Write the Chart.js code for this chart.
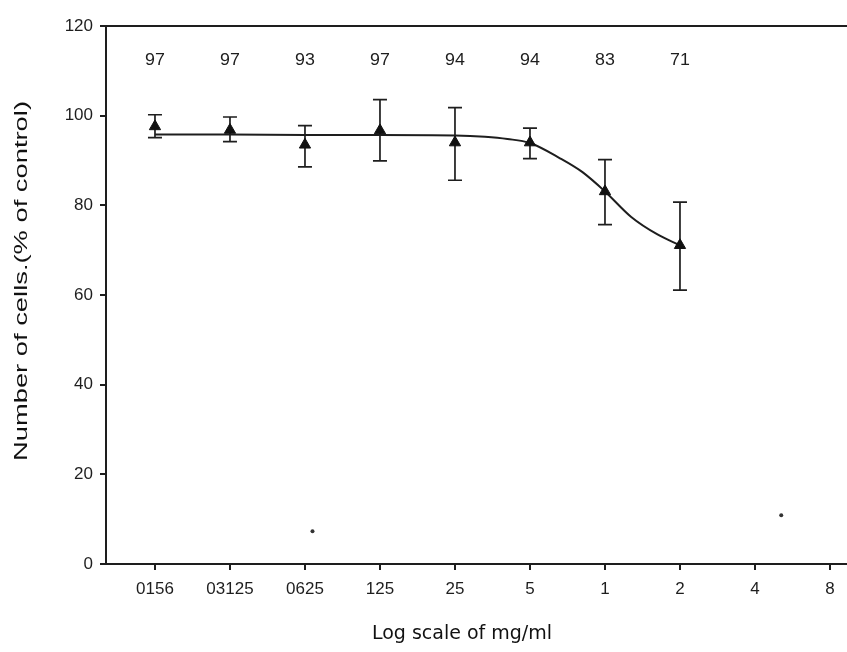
<!DOCTYPE html>
<html><head><meta charset="utf-8">
<script src="https://cdn.jsdelivr.net/npm/chart.js@4.4.0/dist/chart.umd.min.js"></script>
<style>html,body{margin:0;padding:0;background:#fff;}#wrap{width:847px;height:652px;}</style>
</head><body><div id="wrap"><canvas id="c" width="847" height="652"></canvas></div>
<script>
const categories = ['0156','03125','0625','125','25','5','1','2','4','8'];
const meanValues = [97.6, 96.8, 93.5, 96.7, 94.0, 94.0, 83.1, 71.1];
const errorHigh = [100.2, 99.7, 97.8, 103.6, 101.8, 97.2, 90.2, 80.7];
const errorLow = [95.1, 94.2, 88.6, 89.9, 85.6, 90.4, 75.7, 61.1];
const topLabels = ['97','97','93','97','94','94','83','71'];
const curveX = [0, 1, 2, 3, 4, 4.4, 4.7, 5, 5.4, 5.7, 6, 6.35, 6.7, 7];
const curveY = [95.8, 95.8, 95.7, 95.7, 95.6, 95.3, 94.8, 93.9, 90.5, 87.4, 83.1, 77.4, 73.5, 71.1];
const speckX = [2.1, 8.35];
const speckY = [7.3, 10.9];
const yTicks = [0, 20, 40, 60, 80, 100, 120];
const xTitle = 'Log scale of mg/ml';
const yTitle = 'Number of cells.(% of control)';

const INK = '#1e1e1e';
const tickFont = {family: '"Liberation Sans", Arial, sans-serif', size: 17};

const extras = {
  id: 'extras',
  beforeDatasetsDraw(chart) {
    const {ctx, scales: {x, y}} = chart;
    ctx.save();
    ctx.strokeStyle = INK;
    ctx.lineWidth = 1.7;
    meanValues.forEach((v, i) => {
      const px = x.getPixelForValue(i);
      const t = y.getPixelForValue(errorHigh[i]);
      const b = y.getPixelForValue(errorLow[i]);
      ctx.beginPath();
      ctx.moveTo(px, t); ctx.lineTo(px, b);
      ctx.moveTo(px - 7, t); ctx.lineTo(px + 7, t);
      ctx.moveTo(px - 7, b); ctx.lineTo(px + 7, b);
      ctx.stroke();
    });
    ctx.restore();
  },
  afterDraw(chart) {
    const {ctx, chartArea, scales: {x, y}} = chart;
    ctx.save();
    ctx.strokeStyle = INK;
    ctx.lineWidth = 2;
    ctx.beginPath();
    const ty = y.getPixelForValue(120);
    ctx.moveTo(chartArea.left - 6, ty); ctx.lineTo(chartArea.right, ty);
    ctx.stroke();
    ctx.fillStyle = INK;
    ctx.textAlign = 'center';
    ctx.textBaseline = 'middle';
    ctx.font = '17px "Liberation Sans", Arial, sans-serif';
    topLabels.forEach((t, i) => {
      ctx.save();
      ctx.translate(x.getPixelForValue(i), y.getPixelForValue(112.3));
      ctx.scale(1.05, 1);
      ctx.fillText(t, 0, 0);
      ctx.restore();
    });
    // axis titles
    ctx.fillStyle = '#111';
    ctx.font = '19px "DejaVu Sans", Verdana, sans-serif';
    let w = ctx.measureText(xTitle).width;
    ctx.save();
    ctx.translate(462, 634);
    ctx.scale(180 / w, 1);
    ctx.fillText(xTitle, 0, 0);
    ctx.restore();
    ctx.font = '19px "Liberation Sans", Arial, sans-serif';
    w = ctx.measureText(yTitle).width;
    ctx.save();
    ctx.translate(22, 281);
    ctx.rotate(-Math.PI / 2);
    ctx.scale(360 / w, 1);
    ctx.fillText(yTitle, 0, 0);
    ctx.restore();
    ctx.restore();
  }
};

new Chart(document.getElementById('c'), {
  type: 'scatter',
  data: {
    datasets: [
      {
        type: 'line',
        data: curveX.map((v, i) => ({x: v, y: curveY[i]})),
        borderColor: INK, borderWidth: 2, pointRadius: 0,
        cubicInterpolationMode: 'monotone', fill: false, order: 2
      },
      {
        data: meanValues.map((v, i) => ({x: i, y: v})),
        pointStyle: 'triangle', pointRadius: 6.5,
        backgroundColor: '#111', borderColor: '#111', borderWidth: 1, order: 1
      },
      {
        data: speckX.map((v, i) => ({x: v, y: speckY[i]})),
        pointRadius: 2, backgroundColor: '#333', borderWidth: 0, order: 3
      }
    ]
  },
  options: {
    responsive: false,
    animation: false,
    devicePixelRatio: 1,
    layout: {autoPadding: false, padding: {top: 26, right: 0, left: 0, bottom: 0}},
    plugins: {legend: {display: false}, tooltip: {enabled: false}},
    scales: {
      x: {
        type: 'linear', min: -0.653, max: 9.227,
        afterBuildTicks: s => { s.ticks = categories.map((c, i) => ({value: i})); },
        afterFit: s => { s.height = 88; s.paddingLeft = 0; s.paddingRight = 0; },
        ticks: {
          callback: v => categories[v] ?? '', autoSkip: false, maxRotation: 0,
          color: INK, font: tickFont, padding: 9
        },
        grid: {display: true, drawOnChartArea: false, drawTicks: true, tickLength: 6, color: INK, lineWidth: 2},
        border: {display: true, color: INK, width: 2}
      },
      y: {
        min: 0, max: 120,
        afterBuildTicks: s => { s.ticks = yTicks.map(v => ({value: v})); },
        afterFit: s => { s.width = 106; },
        ticks: {color: INK, font: tickFont, padding: 7},
        grid: {display: true, drawOnChartArea: false, drawTicks: true, tickLength: 6, color: INK, lineWidth: 2},
        border: {display: true, color: INK, width: 2}
      }
    }
  },
  plugins: [extras]
});
</script></body></html>
